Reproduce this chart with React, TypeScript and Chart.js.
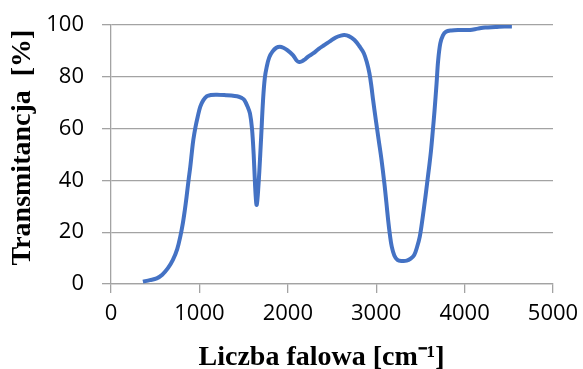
import React, { useEffect, useRef } from "react";
import { Chart, registerables } from "chart.js";

Chart.register(...registerables);

const wavenumbers = [
  361, 440, 517, 580, 644, 700, 749, 785, 813, 835, 855, 877, 897, 915, 931, 955, 981, 1010, 1045, 1085,
  1129, 1200, 1300, 1400, 1446, 1480, 1509, 1545, 1572, 1595, 1614, 1630, 1642, 1648, 1656, 1666, 1678,
  1699, 1720, 1740, 1762, 1790, 1826, 1870, 1911, 1950, 1994, 2058, 2100, 2130, 2160, 2184, 2230, 2290,
  2350, 2416, 2480, 2543, 2600, 2640, 2690, 2754, 2810, 2860, 2895, 2923, 2945, 2965, 2995, 3028, 3060,
  3092, 3115, 3135, 3155, 3176, 3205, 3240, 3290, 3345, 3390, 3430, 3460, 3493, 3525, 3557, 3578, 3598,
  3620, 3640, 3660, 3683, 3700, 3725, 3755, 3789, 3850, 3937, 4000, 4062, 4150, 4232, 4350, 4450, 4535,
];

const transmittance = [
  0.9, 1.5, 2.2, 3.6, 6.1, 9.3, 13.5, 18.5, 23.5, 28.5, 33.7, 40, 45.3, 51, 55.6, 60.5, 64.6, 68.5, 71, 72.5,
  73, 73.1, 72.9, 72.6, 72.3, 71.8, 71, 68.5, 65.9, 60, 50, 38, 31.5, 30.5, 32.5, 37, 43.5,
  57, 71, 79.5, 83.9, 87.5, 89.7, 91.2, 91.6, 91.2, 90.3, 88.4, 86.3, 85.7, 86, 86.5, 87.8, 89.1,
  90.8, 92.3, 93.8, 95.2, 95.9, 96.1, 95.7, 94.2, 91.8, 89.1, 85.5, 81.4, 76.5, 71, 63.5, 55.6, 48,
  39, 31.5, 24.7, 19, 14.4, 11, 9.3, 8.9, 9, 9.8, 11.2, 14, 18.3, 25.5, 33.7, 39.5, 45,
  51.5, 59, 67, 77.5, 86, 92.9, 96, 97.4, 97.9, 98.1, 98.1, 98.1, 98.6, 99, 99.2, 99.4, 99.4,
];

const xTitle = "Liczba falowa [cm⁻¹]   ";
const yTitle = "  Transmitancja  [%]";

export default function App() {
  const ref = useRef<HTMLCanvasElement | null>(null);

  useEffect(() => {
    if (!ref.current) return;
    const points = wavenumbers.map((x, i) => ({ x, y: transmittance[i] }));
    const gridColor = "#a3a3a3";
    const tickFont = { family: "'Open Sans', sans-serif", size: 22 };
    const titleFont = { family: "'Liberation Serif', 'Times New Roman', serif", size: 28, weight: "bold" as const, lineHeight: 0.9 };
    const chart = new Chart(ref.current, {
      type: "line",
      data: {
        datasets: [
          {
            data: points,
            borderColor: "#4472c4",
            borderWidth: 4,
            pointRadius: 0,
            fill: false,
            tension: 0.35,
          },
        ],
      },
      options: {
        animation: false,
        responsive: false,
        devicePixelRatio: 1,
        layout: { padding: { top: 25, right: 30, left: 0, bottom: 0 } },
        plugins: { legend: { display: false }, tooltip: { enabled: false } },
        scales: {
          x: {
            type: "linear",
            min: 0,
            max: 5000,
            ticks: {
              stepSize: 1000,
              font: tickFont,
              color: "#000",
              padding: 8,
              maxRotation: 0,
              callback: (v: any) => String(v),
            },
            grid: { drawOnChartArea: false, drawTicks: true, tickLength: 9, color: gridColor, lineWidth: 1.3 },
            border: { display: true, color: gridColor, width: 1.3 },
            title: { display: true, text: xTitle, font: titleFont, color: "#000", padding: { top: 0, bottom: -1 } },
            afterFit: (s: any) => {
              s.height = 85;
              s.paddingLeft = 0;
              s.paddingRight = 0;
            },
          },
          y: {
            min: 0,
            max: 100,
            ticks: { stepSize: 20, font: tickFont, color: "#000", padding: 18, callback: (v: any) => String(v) },
            grid: { drawTicks: true, tickLength: 9, color: gridColor, lineWidth: 1.3 },
            border: { display: true, color: gridColor, width: 1.3 },
            title: { display: true, text: yTitle, font: titleFont, color: "#000", padding: { top: 10, bottom: 0 } },
            afterFit: (s: any) => {
              s.width = 111;
              s.paddingTop = 0;
              s.paddingBottom = 0;
            },
          },
        },
      },
    });
    return () => chart.destroy();
  }, []);

  return (
    <canvas
      ref={ref}
      width={583}
      height={369}
      style={{ position: "fixed", left: 0, top: 0, width: 583, height: 369, background: "#fff" }}
    />
  );
}
